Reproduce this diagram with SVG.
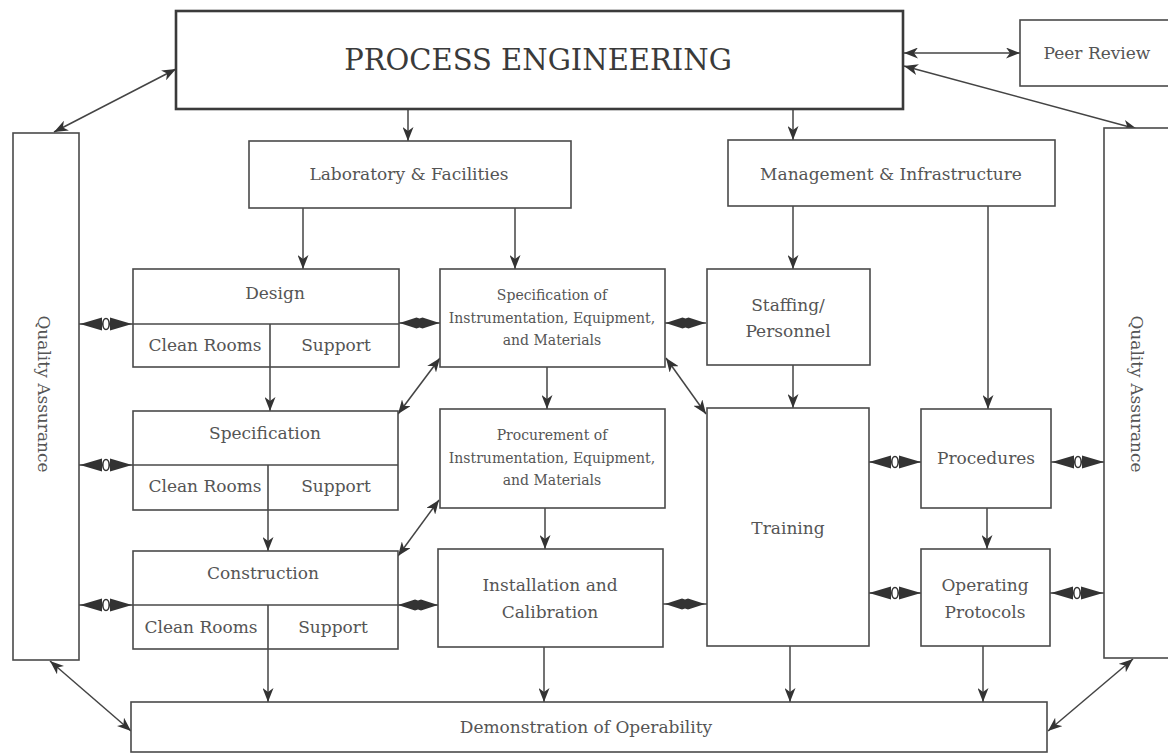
<svg xmlns="http://www.w3.org/2000/svg" width="1168" height="754" viewBox="0 0 1168 754">
<defs>
<style>
.box{fill:#fff;stroke:#4a4a4a;stroke-width:1.6}
.pe{fill:#fff;stroke:#3a3a3a;stroke-width:2.6}
.div{stroke:#4a4a4a;stroke-width:1.6;fill:none}
.t{font-family:"DejaVu Serif","Liberation Serif",serif;font-size:17px;fill:#555;text-anchor:middle}
.s{font-size:14px}
.big{font-size:29px;fill:#3a3a3a}
.c{stroke:#444;stroke-width:1.5;fill:none}
.a1{marker-end:url(#arr)}
.a2{marker-start:url(#arr);marker-end:url(#arr)}
.dm{marker-mid:url(#dia)}
.ov{marker-mid:url(#ovl)}
</style>
<marker id="arr" viewBox="0 0 14 11" refX="14" refY="5.5" markerWidth="14" markerHeight="11" markerUnits="userSpaceOnUse" orient="auto-start-reverse">
<path d="M0,0 L14,5.5 L0,11 L4,5.5 Z" fill="#333"/>
</marker>
<marker id="dia" viewBox="-21 -7 42 14" refX="0" refY="0" markerWidth="42" markerHeight="14" markerUnits="userSpaceOnUse" orient="auto">
<path d="M-20,0 L-3,-5.5 L0,-4.5 L3,-5.5 L20,0 L3,5.5 L0,4.5 L-3,5.5 Z" fill="#333"/>
</marker>
<marker id="ovl" viewBox="-27 -8 54 16" refX="0" refY="0" markerWidth="54" markerHeight="16" markerUnits="userSpaceOnUse" orient="auto">
<path d="M-26,0 L-4,-6.5 L-4,6.5 Z M26,0 L4,-6.5 L4,6.5 Z" fill="#333"/>
<ellipse cx="0" cy="0" rx="3.2" ry="5.5" fill="#fff" stroke="#333" stroke-width="1.6"/>
</marker>
</defs>
<rect width="1168" height="754" fill="#fff"/>

<g id="connectors">
<path class="c a1" d="M408,109 L408,141"/>
<path class="c a1" d="M793,109 L793,140"/>
<path class="c a2" d="M904,53 L1020,53"/>
<path class="c a2" d="M176,69 L54,132"/>
<path class="c a2" d="M904,66 L1137,129"/>
<path class="c a1" d="M303,208 L303,269"/>
<path class="c a1" d="M515,208 L515,269"/>
<path class="c a1" d="M793,206 L793,269"/>
<path class="c a1" d="M988,206 L988,409"/>
<path class="c a1" d="M270,367 L270,411"/>
<path class="c a1" d="M268,510 L268,551"/>
<path class="c a1" d="M268,649 L268,702"/>
<path class="c a1" d="M547,367 L547,409"/>
<path class="c a1" d="M545,508 L545,549"/>
<path class="c a1" d="M544,647 L544,702"/>
<path class="c a1" d="M793,365 L793,408"/>
<path class="c a1" d="M790,646 L790,702"/>
<path class="c a1" d="M987,508 L987,549"/>
<path class="c a1" d="M983,646 L983,702"/>
<path class="c a2" d="M666,358 L706,414"/>
<path class="c a2" d="M398,414 L440,358"/>
<path class="c a2" d="M398,556 L439,500"/>
<path class="c a2" d="M50,661 L131,731"/>
<path class="c a2" d="M1133,659 L1048,731"/>
<path class="c dm" d="M399,323 L419.5,323 L440,323"/>
<path class="c dm" d="M665,323 L685.5,323 L706,323"/>
<path class="c dm" d="M398,605 L418,605 L438,605"/>
<path class="c dm" d="M663,604 L685,604 L707,604"/>
<path class="c ov" d="M79,324 L106,324 L133,324"/>
<path class="c ov" d="M79,465 L106,465 L133,465"/>
<path class="c ov" d="M79,605 L106,605 L133,605"/>
<path class="c ov" d="M869,462 L895,462 L921,462"/>
<path class="c ov" d="M1051,462 L1078,462 L1105,462"/>
<path class="c ov" d="M869,593 L895,593 L921,593"/>
<path class="c ov" d="M1050,593 L1077,593 L1104,593"/>
</g>

<g id="process-engineering">
<rect class="pe" x="176" y="11" width="727" height="98"/>
<text class="t big" x="538" y="70">PROCESS ENGINEERING</text>
</g>
<g id="peer-review">
<rect class="box" x="1020" y="20" width="160" height="66"/>
<text class="t" x="1097" y="59">Peer Review</text>
</g>
<g id="qa-left">
<rect class="box" x="13" y="133" width="66" height="527"/>
<text class="t" x="44" y="394" dominant-baseline="central" transform="rotate(90 44 394)">Quality Assurance</text>
</g>
<g id="qa-right">
<rect class="box" x="1104" y="128" width="80" height="530"/>
<text class="t" x="1137" y="394" dominant-baseline="central" transform="rotate(90 1137 394)">Quality Assurance</text>
</g>
<g id="lab-facilities">
<rect class="box" x="249" y="141" width="322" height="67"/>
<text class="t" x="409" y="180">Laboratory &amp; Facilities</text>
</g>
<g id="mgmt-infra">
<rect class="box" x="728" y="140" width="327" height="66"/>
<text class="t" x="891" y="180">Management &amp; Infrastructure</text>
</g>
<g id="design">
<rect class="box" x="133" y="269" width="266" height="98"/>
<path class="div" d="M133,324 H399 M270,324 V367"/>
<text class="t" x="275" y="299">Design</text>
<text class="t" x="205" y="351">Clean Rooms</text>
<text class="t" x="336" y="351">Support</text>
</g>
<g id="specification">
<rect class="box" x="133" y="411" width="265" height="99"/>
<path class="div" d="M133,465 H398 M268,465 V510"/>
<text class="t" x="265" y="439">Specification</text>
<text class="t" x="205" y="492">Clean Rooms</text>
<text class="t" x="336" y="492">Support</text>
</g>
<g id="construction">
<rect class="box" x="133" y="551" width="265" height="98"/>
<path class="div" d="M133,605 H398 M268,605 V649"/>
<text class="t" x="263" y="579">Construction</text>
<text class="t" x="201" y="633">Clean Rooms</text>
<text class="t" x="333" y="633">Support</text>
</g>
<g id="spec-instrumentation">
<rect class="box" x="440" y="269" width="225" height="98"/>
<text class="t s" x="552" y="300">Specification of</text>
<text class="t s" x="552" y="323">Instrumentation, Equipment,</text>
<text class="t s" x="552" y="345">and Materials</text>
</g>
<g id="procurement">
<rect class="box" x="440" y="409" width="225" height="99"/>
<text class="t s" x="552" y="440">Procurement of</text>
<text class="t s" x="552" y="463">Instrumentation, Equipment,</text>
<text class="t s" x="552" y="485">and Materials</text>
</g>
<g id="installation">
<rect class="box" x="438" y="549" width="225" height="98"/>
<text class="t" x="550" y="591">Installation and</text>
<text class="t" x="550" y="618">Calibration</text>
</g>
<g id="staffing">
<rect class="box" x="707" y="269" width="163" height="96"/>
<text class="t" x="788" y="311">Staffing/</text>
<text class="t" x="788" y="337">Personnel</text>
</g>
<g id="training">
<rect class="box" x="707" y="408" width="162" height="238"/>
<text class="t" x="788" y="534">Training</text>
</g>
<g id="procedures">
<rect class="box" x="921" y="409" width="130" height="99"/>
<text class="t" x="986" y="464">Procedures</text>
</g>
<g id="operating-protocols">
<rect class="box" x="921" y="549" width="129" height="97"/>
<text class="t" x="985" y="591">Operating</text>
<text class="t" x="985" y="618">Protocols</text>
</g>
<g id="demonstration">
<rect class="box" x="131" y="702" width="916" height="50"/>
<text class="t" x="586" y="733">Demonstration of Operability</text>
</g>
</svg>
